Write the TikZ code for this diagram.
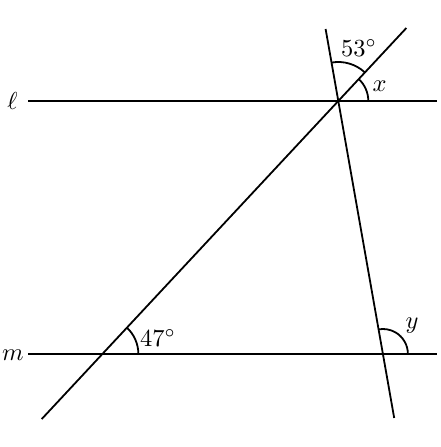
\documentclass[tikz,border=0pt]{standalone}
\usetikzlibrary{calc}
\begin{document}
\begin{tikzpicture}[x=1pt,y=1pt,line width=1.8pt,
  lbl/.style={inner sep=0pt,scale=2.45}]
\useasboundingbox (0,0) rectangle (440,447);
% intersection points
\coordinate (P) at (338.3,346);
\coordinate (Q) at ($(P)+(227:{253/sin(47)})$);
\coordinate (R) at ($(P)+(280:{253/sin(80)})$);
% line endpoints
\coordinate (l1) at (28,346);
\coordinate (l2) at (437,346);
\coordinate (m1) at (28,93);
\coordinate (m2) at (437,93);
\coordinate (d1) at ($(P)+(47:{73/sin(47)})$);
\coordinate (d2) at ($(P)+(227:{318/sin(47)})$);
\coordinate (t1) at ($(P)+(100:{72/sin(80)})$);
\coordinate (t2) at ($(P)+(280:{317/sin(80)})$);
% lines
\draw (l1) -- (l2);
\draw (m1) -- (m2);
\draw (d2) -- (d1);
\draw (t2) -- (t1);
% arcs
\draw ($(P)+(47:39)$) arc[start angle=47,end angle=100,radius=39];
\draw ($(P)+(0:30)$) arc[start angle=0,end angle=47,radius=30];
\draw ($(Q)+(0:36)$) arc[start angle=0,end angle=47,radius=36];
\draw ($(R)+(0:25)$) arc[start angle=0,end angle=100,radius=25];
% labels
\node[lbl] (a53) at (359,399) {53$^\circ$};
\node[lbl] (ax) at (379.5,361) {$x$};
\node[lbl] (a47) at (158,109) {47$^\circ$};
\node[lbl] (ay) at (412,121) {$y$};
\node[lbl] (ll) at (12.5,346) {$\ell$};
\node[lbl] (lm) at (13,92) {$m$};
\end{tikzpicture}
\end{document}
